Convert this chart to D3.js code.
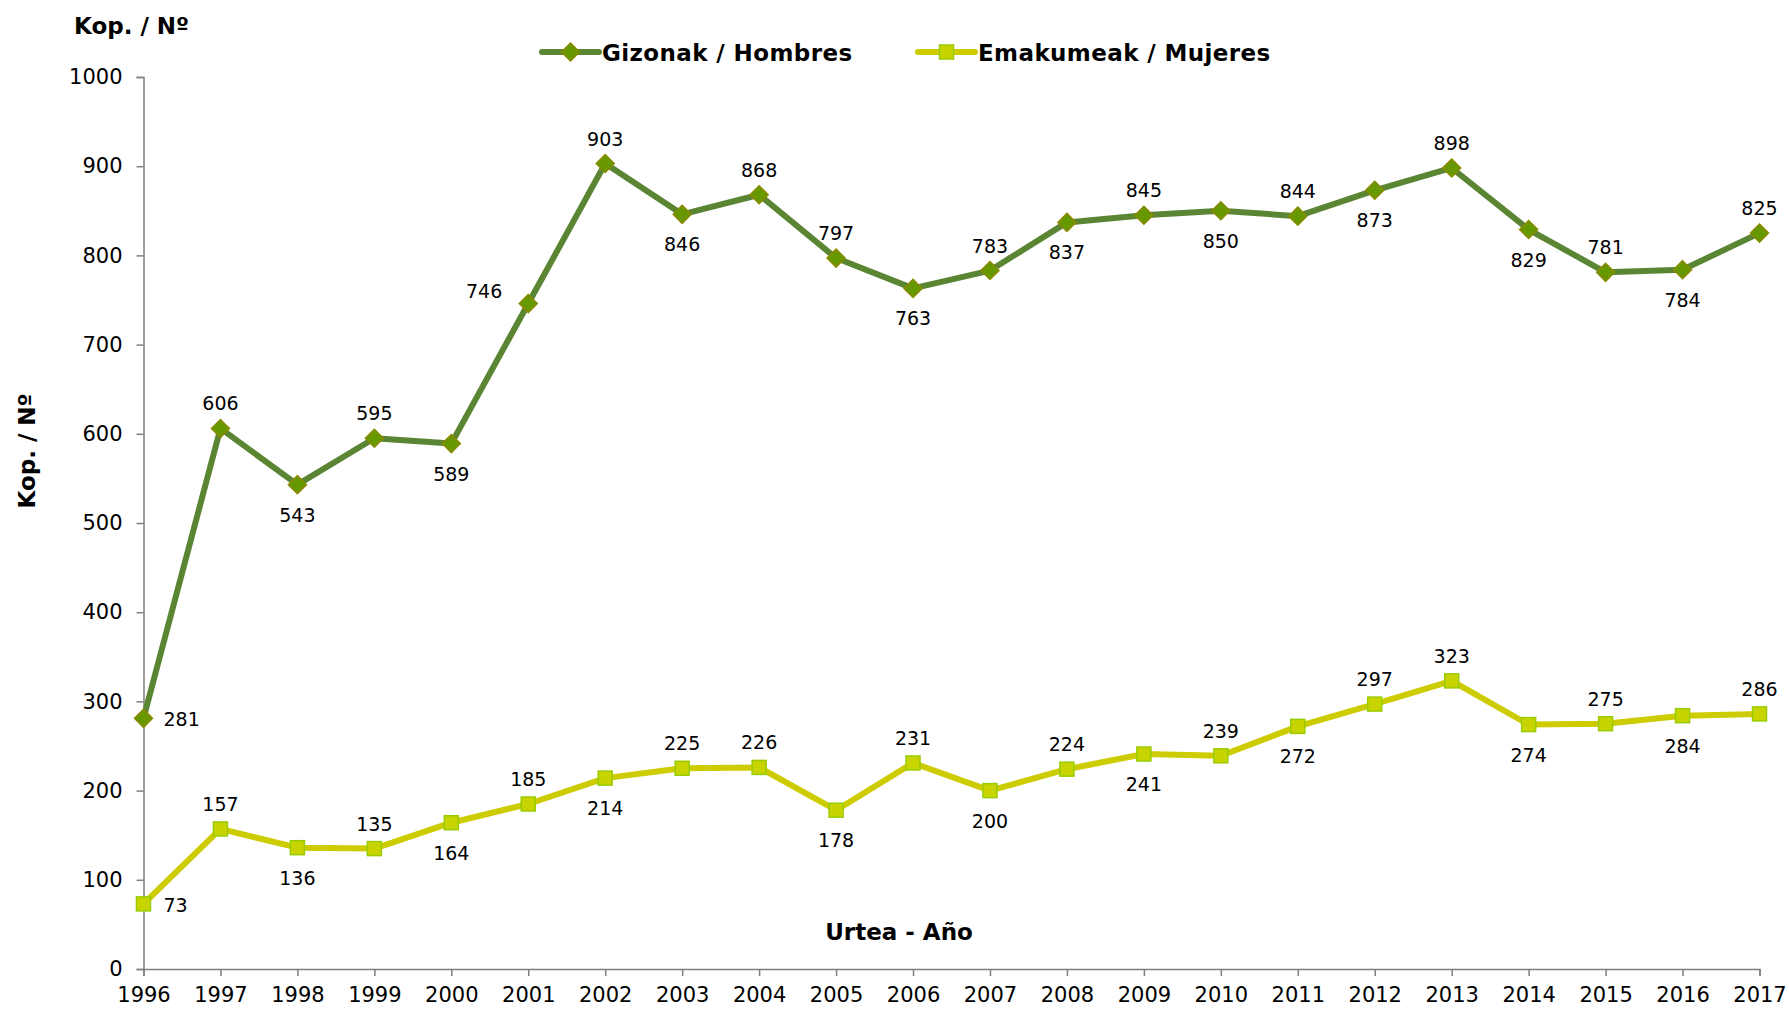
<!DOCTYPE html>
<html>
<head>
<meta charset="utf-8">
<script src="https://cdn.jsdelivr.net/npm/d3@7"></script>
<style>
  body { margin: 0; background: #fff; }
  text { font-family: "DejaVu Sans", sans-serif; fill: #000; }
</style>
</head>
<body>
<svg id="chart" width="1789" height="1011"></svg>
<script>
const years = ['1996','1997','1998','1999','2000','2001','2002','2003','2004','2005','2006',
  '2007','2008','2009','2010','2011','2012','2013','2014','2015','2016','2017']
const hombres = [281,606,543,595,589,746,903,846,868,797,763,783,837,845,850,844,873,898,829,781,784,825]
const mujeres = [73,157,136,135,164,185,214,225,226,178,231,200,224,241,239,272,297,323,274,275,284,286]
const yTicks = [0,100,200,300,400,500,600,700,800,900,1000]
const seriesNames = ['Gizonak / Hombres', 'Emakumeak / Mujeres']

// where each data label sits: a = above, b = below, l = left, r = right
const hombresSide = ['r','a','b','a','b','l','a','b','a','a','b','a','b','a','b','a','b','a','b','a','b','a']
const mujeresSide = ['r','a','b','a','b','a','b','a','a','b','a','b','a','b','a','b','a','a','b','a','b','a']

const svg = d3.select('#chart')
const x = d3.scalePoint().domain(years).range([143.5, 1759.5])
const y = d3.scaleLinear().domain([0, 1000]).range([969, 77])

const axisColor = '#7f7f7f'

// y axis
const yAxis = svg.append('g').attr('transform', 'translate(143.5,0)')
  .call(d3.axisLeft(y).tickValues(yTicks).tickSize(7).tickPadding(14).tickFormat(d3.format('d')))
yAxis.select('.domain').attr('stroke', axisColor).attr('stroke-width', 1.5)
yAxis.selectAll('.tick line').attr('stroke', axisColor).attr('stroke-width', 1.5)
yAxis.selectAll('.tick text').style('font-size', '21px').style('font-family', '"DejaVu Sans", sans-serif').attr('fill', '#000')

// x axis
const xAxis = svg.append('g').attr('transform', 'translate(0,969)')
  .call(d3.axisBottom(x).tickSize(7).tickPadding(11))
xAxis.select('.domain').attr('stroke', axisColor).attr('stroke-width', 1.5)
xAxis.selectAll('.tick line').attr('stroke', axisColor).attr('stroke-width', 1.5)
xAxis.selectAll('.tick text').style('font-size', '21px').style('font-family', '"DejaVu Sans", sans-serif').attr('fill', '#000')

// titles
svg.append('text').attr('x', 74).attr('y', 34)
  .style('font-size', '23px').style('font-weight', 'bold').text('Kop. / Nº')
svg.append('text').attr('transform', 'translate(35,451) rotate(-90)')
  .attr('text-anchor', 'middle')
  .style('font-size', '23px').style('font-weight', 'bold').text('Kop. / Nº')
svg.append('text').attr('x', 899).attr('y', 940).attr('text-anchor', 'middle')
  .style('font-size', '23px').style('font-weight', 'bold').text('Urtea - Año')

const line = d3.line()
  .x(function (d, i) { return x(years[i]) })
  .y(function (d) { return y(d) })

const men = { values: hombres, side: hombresSide, line: '#5a8532', fill: '#669900', stroke: '#8a8a00', shape: 'diamond' }
const women = { values: mujeres, side: mujeresSide, line: '#cccc00', fill: '#c8d400', stroke: '#99cc00', shape: 'square' }

function drawMarker(g, s, cx, cy) {
  if (s.shape === 'diamond') {
    g.append('path')
      .attr('d', 'M' + cx + ',' + (cy - 9) + 'L' + (cx + 9) + ',' + cy + 'L' + cx + ',' + (cy + 9) + 'L' + (cx - 9) + ',' + cy + 'Z')
      .attr('fill', s.fill).attr('stroke', s.stroke).attr('stroke-width', 1.5)
  } else {
    g.append('rect').attr('x', cx - 7).attr('y', cy - 7).attr('width', 14).attr('height', 14)
      .attr('fill', s.fill).attr('stroke', s.stroke).attr('stroke-width', 1.5)
  }
}

;[men, women].forEach(function (s) {
  const g = svg.append('g')
  g.append('path').attr('d', line(s.values))
    .attr('fill', 'none').attr('stroke', s.line).attr('stroke-width', 6).attr('stroke-linejoin', 'round')
  s.values.forEach(function (v, i) {
    drawMarker(g, s, x(years[i]), y(v))
  })
  s.values.forEach(function (v, i) {
    const cx = x(years[i])
    const cy = y(v)
    let tx = cx
    let ty = cy
    let anchor = 'middle'
    if (s.side[i] === 'a') { ty = cy - 18 }
    if (s.side[i] === 'b') { ty = cy + 37 }
    if (s.side[i] === 'r') { tx = cx + 20; ty = cy + 8; anchor = 'start' }
    if (s.side[i] === 'l') { tx = cx - 26; ty = cy - 6; anchor = 'end' }
    g.append('text').attr('x', tx).attr('y', ty).attr('text-anchor', anchor)
      .style('font-size', '19px').text(v)
  })
})

// legend
const legend = [
  { s: men, x: 542, name: seriesNames[0] },
  { s: women, x: 918, name: seriesNames[1] }
]
legend.forEach(function (l) {
  const g = svg.append('g')
  g.append('line').attr('x1', l.x).attr('x2', l.x + 57).attr('y1', 52).attr('y2', 52)
    .attr('stroke', l.s.line).attr('stroke-width', 6).attr('stroke-linecap', 'round')
  drawMarker(g, l.s, l.x + 28.5, 52)
  g.append('text').attr('x', l.x + 60).attr('y', 61)
    .style('font-size', '23px').style('font-weight', 'bold').style('letter-spacing', '0.4px').text(l.name)
})
</script>
</body>
</html>
